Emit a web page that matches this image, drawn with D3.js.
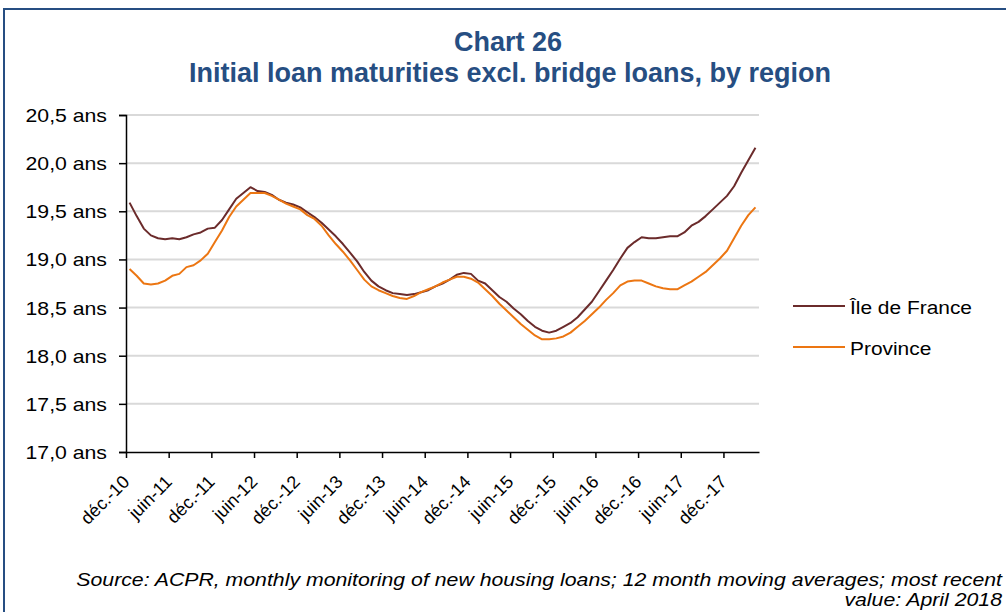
<!DOCTYPE html>
<html>
<head>
<meta charset="utf-8">
<script src="https://cdn.jsdelivr.net/npm/d3@7/dist/d3.min.js"></script>
<style>
  html, body { margin: 0; padding: 0; background: #fff; }
  svg { display: block; font-family: "Liberation Sans", Arial, sans-serif; }
</style>
</head>
<body>
<svg id="chart" width="1006" height="612"></svg>
<script>
// Monthly series, Dec 2010 to Apr 2018 (12-month moving averages, years)
const ileDeFrance = [
  19.59, 19.45, 19.32, 19.25, 19.22, 19.21, 19.22, 19.21, 19.23, 19.26,
  19.28, 19.32, 19.33, 19.41, 19.52, 19.63, 19.69, 19.75, 19.71, 19.70,
  19.67, 19.62, 19.59, 19.57, 19.54, 19.49, 19.44, 19.38, 19.31, 19.24,
  19.16, 19.07, 18.98, 18.87, 18.78, 18.72, 18.68, 18.65, 18.64, 18.63,
  18.64, 18.66, 18.68, 18.72, 18.75, 18.79, 18.84, 18.86, 18.85, 18.78,
  18.75, 18.68, 18.61, 18.56, 18.49, 18.43, 18.36, 18.30, 18.26, 18.24,
  18.26, 18.30, 18.34, 18.40, 18.48, 18.56, 18.67, 18.78, 18.89, 19.01,
  19.12, 19.18, 19.23, 19.22, 19.22, 19.23, 19.24, 19.24, 19.28, 19.35,
  19.39, 19.45, 19.52, 19.59, 19.66, 19.76, 19.90, 20.03, 20.16
];
const province = [
  18.90, 18.83, 18.75, 18.74, 18.75, 18.78, 18.83, 18.85, 18.92, 18.94,
  18.99, 19.06, 19.18, 19.30, 19.44, 19.55, 19.62, 19.69, 19.69, 19.69,
  19.66, 19.62, 19.58, 19.55, 19.52, 19.46, 19.42, 19.35, 19.25, 19.16,
  19.08, 18.99, 18.89, 18.79, 18.72, 18.68, 18.65, 18.62, 18.60, 18.59,
  18.62, 18.66, 18.69, 18.72, 18.76, 18.79, 18.82, 18.82, 18.80, 18.76,
  18.69, 18.62, 18.54, 18.47, 18.40, 18.33, 18.27, 18.21, 18.17, 18.17,
  18.18, 18.20, 18.24, 18.30, 18.36, 18.43, 18.50, 18.58, 18.65, 18.73,
  18.77, 18.78, 18.78, 18.75, 18.72, 18.70, 18.69, 18.69, 18.73, 18.77,
  18.82, 18.87, 18.94, 19.01, 19.09, 19.22, 19.35, 19.46, 19.54
];
const seriesNames = ["Île de France", "Province"];
const seriesColors = ["#6B2B2B", "#EC7612"];
const xTickLabels = [
  "déc.-10", "juin-11", "déc.-11", "juin-12", "déc.-12", "juin-13", "déc.-13",
  "juin-14", "déc.-14", "juin-15", "déc.-15", "juin-16", "déc.-16", "juin-17", "déc.-17"
];
const yTicks = [17.0, 17.5, 18.0, 18.5, 19.0, 19.5, 20.0, 20.5];
const monthsOnAxis = 89; // Dec 2010 .. May 2018 (exclusive end)

const svg = d3.select("#chart");
const navy = "#264E82";

// Frame
svg.append("rect")
  .attr("x", 4).attr("y", 9).attr("width", 1020).attr("height", 640)
  .attr("fill", "none").attr("stroke", navy).attr("stroke-width", 2);

// Titles
svg.append("text")
  .attr("x", 508).attr("y", 51)
  .attr("text-anchor", "middle")
  .attr("font-size", 27).attr("font-weight", "bold").attr("fill", navy)
  .text("Chart 26");
svg.append("text")
  .attr("x", 510).attr("y", 82)
  .attr("text-anchor", "middle")
  .attr("font-size", 27).attr("font-weight", "bold").attr("fill", navy)
  .text("Initial loan maturities excl. bridge loans, by region");

const plot = { left: 126, right: 759, top: 115, bottom: 452 };

const x = d3.scaleLinear().domain([0, monthsOnAxis]).range([plot.left, plot.right]);
const y = d3.scaleLinear().domain([17, 20.5]).range([plot.bottom, plot.top]);

// Gridlines
svg.append("g")
  .selectAll("line")
  .data(yTicks.filter(d => d > 17))
  .join("line")
  .attr("x1", plot.left).attr("x2", plot.right)
  .attr("y1", d => y(d)).attr("y2", d => y(d))
  .attr("stroke", "#D9D9D9").attr("stroke-width", 2);

// Y axis
const yAxis = svg.append("g")
  .attr("transform", `translate(${plot.left},0)`)
  .call(d3.axisLeft(y)
    .tickValues(yTicks)
    .tickSize(7)
    .tickFormat(d => d3.format(".1f")(d).replace(".", ",") + " ans"));
yAxis.select(".domain").attr("stroke", "#000").attr("stroke-width", 1.5);
yAxis.selectAll(".tick line").attr("stroke", "#000").attr("stroke-width", 1.5);
yAxis.selectAll(".tick text")
  .attr("font-size", 18).attr("fill", "#000")
  .attr("font-family", "Liberation Sans, Arial, sans-serif")
  .attr("x", 0).attr("dy", "0.36em")
  .attr("transform", "translate(-19,0) scale(1.18,1)");

// X axis
const xAxis = svg.append("g")
  .attr("transform", `translate(0,${plot.bottom})`)
  .call(d3.axisBottom(x)
    .tickValues(xTickLabels.map((_, i) => i * 6))
    .tickSize(6)
    .tickSizeOuter(0)
    .tickFormat((d, i) => xTickLabels[i]));
xAxis.select(".domain").attr("stroke", "#000").attr("stroke-width", 1.5);
xAxis.selectAll(".tick line").attr("stroke", "#000").attr("stroke-width", 1.5);
xAxis.selectAll(".tick text")
  .attr("font-size", 18).attr("fill", "#000")
  .attr("font-family", "Liberation Sans, Arial, sans-serif")
  .attr("text-anchor", "end")
  .attr("x", 0).attr("y", 0).attr("dx", 0).attr("dy", 0)
  .attr("transform", "translate(4,31) rotate(-45)");

// Lines: each monthly value sits in the middle of its month
const line = d3.line()
  .x((d, i) => x(i + 0.5))
  .y(d => y(d));

[ileDeFrance, province].forEach((values, k) => {
  svg.append("path")
    .datum(values)
    .attr("fill", "none")
    .attr("stroke", seriesColors[k])
    .attr("stroke-width", 2)
    .attr("stroke-linejoin", "round")
    .attr("d", line);
});

// Legend
const legend = svg.append("g");
seriesNames.forEach((name, k) => {
  const ly = 306 + k * 41;
  legend.append("line")
    .attr("x1", 793).attr("x2", 845)
    .attr("y1", ly).attr("y2", ly)
    .attr("stroke", seriesColors[k]).attr("stroke-width", 2);
  legend.append("text")
    .attr("transform", `translate(850,${ly + 8}) scale(1.1,1)`)
    .attr("font-size", 19).attr("fill", "#000")
    .text(name);
});

// Source note
const note = svg.append("text")
  .attr("transform", "translate(1002,0) scale(1.15,1)")
  .attr("text-anchor", "end")
  .attr("font-size", 18.5).attr("font-style", "italic").attr("fill", "#000");
note.append("tspan").attr("x", 0).attr("y", 586)
  .text("Source: ACPR, monthly monitoring of new housing loans; 12 month moving averages; most recent");
note.append("tspan").attr("x", 0).attr("y", 606)
  .text("value: April 2018");
</script>
</body>
</html>
